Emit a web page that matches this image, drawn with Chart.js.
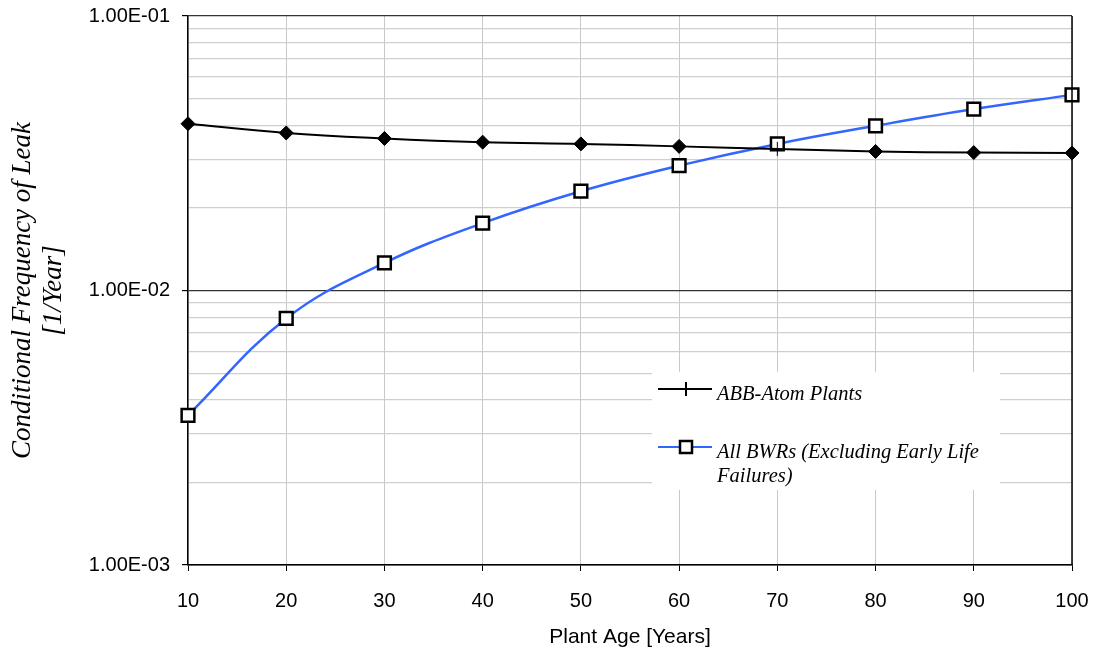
<!DOCTYPE html>
<html lang="en">
<head>
  <meta charset="UTF-8" />
  <title>Conditional Frequency of Leak vs Plant Age</title>
  <script src="https://cdn.jsdelivr.net/npm/chart.js"></script>
  <style>
    html, body { margin: 0; padding: 0; background: #fff; }
    #wrap { width: 1093px; height: 652px; }
  </style>
</head>
<body>
  <div id="wrap"><canvas id="leakChart" width="1093" height="652"></canvas></div>

  <script>
    // plant age (years)
    const ages = [10, 20, 30, 40, 50, 60, 70, 80, 90, 100];
    // conditional frequency of leak [1/year]
    const abbAtomFreq = [0.0405, 0.0375, 0.0358, 0.0347, 0.0342, 0.0335, 0.0328, 0.0321, 0.0318, 0.0317];
    const allBwrFreq = [0.00351, 0.00791, 0.0126, 0.0176, 0.0230, 0.0285, 0.0342, 0.0398, 0.0458, 0.0516];
    const yDecades = [0.001, 0.01, 0.1];
    const yDecadeLabels = ["1.00E-03", "1.00E-02", "1.00E-01"];
    const seriesNames = ["ABB-Atom Plants", "All BWRs (Excluding Early Life", "Failures)"];

    const BLUE = "#3366ff";
    const serif = "'Liberation Serif', 'Times New Roman', serif";
    const sans = "'Liberation Sans', Arial, sans-serif";

    function isMajor(v) {
      return yDecades.some(d => Math.abs(v - d) < d * 1e-6);
    }

    // ABB series: diamonds, except the one point hidden behind the square at 70
    const abbStyles = abbAtomFreq.map((v, i) => i === 6 ? "line" : "rectRot");
    const abbRot = abbAtomFreq.map((v, i) => i === 6 ? 90 : 0);

    const frameAndLegend = {
      id: "frameAndLegend",
      afterDraw(chart) {
        const { ctx, chartArea: a } = chart;
        ctx.save();
        // right frame edge
        ctx.strokeStyle = "#000";
        ctx.lineWidth = 1.5;
        ctx.beginPath();
        ctx.moveTo(a.right, a.top);
        ctx.lineTo(a.right, a.bottom);
        ctx.stroke();

        // legend box
        const lx = 652, ly = 372, lw = 348, lh = 118;
        ctx.fillStyle = "#fff";
        ctx.fillRect(lx, ly, lw, lh);

        // entry 1
        ctx.strokeStyle = "#000";
        ctx.lineWidth = 2;
        ctx.beginPath();
        ctx.moveTo(658, 389); ctx.lineTo(712, 389);
        ctx.moveTo(686, 382); ctx.lineTo(686, 396);
        ctx.stroke();

        // entry 2
        ctx.strokeStyle = BLUE;
        ctx.beginPath();
        ctx.moveTo(658, 447); ctx.lineTo(712, 447);
        ctx.stroke();
        ctx.fillStyle = "#fff";
        ctx.strokeStyle = "#000";
        ctx.lineWidth = 2.5;
        ctx.fillRect(680, 441, 12, 12);
        ctx.strokeRect(680, 441, 12, 12);

        ctx.fillStyle = "#000";
        ctx.font = "italic 20.5px " + serif;
        ctx.textBaseline = "alphabetic";
        ctx.textAlign = "left";
        ctx.fillText(seriesNames[0], 717, 400);
        ctx.fillText(seriesNames[1], 717, 458);
        ctx.fillText(seriesNames[2], 717, 482);
        ctx.restore();
      }
    };

    new Chart(document.getElementById("leakChart"), {
      type: "line",
      data: {
        labels: ages,
        datasets: [
          {
            label: seriesNames[0],
            data: abbAtomFreq,
            borderColor: "#000",
            borderWidth: 2,
            backgroundColor: "#000",
            pointStyle: abbStyles,
            pointRotation: abbRot,
            pointRadius: 7,
            pointBorderWidth: 1,
            pointBorderColor: "#000",
            pointBackgroundColor: "#000",
            tension: 0.4
          },
          {
            label: seriesNames[1] + " " + seriesNames[2],
            data: allBwrFreq,
            borderColor: BLUE,
            borderWidth: 2.5,
            pointStyle: "rect",
            pointRadius: 9,
            pointBorderWidth: 2.5,
            pointBorderColor: "#000",
            pointBackgroundColor: "#fff",
            tension: 0.4
          }
        ]
      },
      options: {
        responsive: false,
        animation: false,
        layout: { padding: { top: 16, right: 21, left: 0, bottom: 0 } },
        plugins: {
          legend: { display: false },
          tooltip: { enabled: false }
        },
        scales: {
          x: {
            type: "category",
            offset: false,
            afterFit(s) {
              s.height = 87;
              s.paddingLeft = 0;
              s.paddingRight = 0;
            },
            grid: {
              color: "#c8c8c8",
              lineWidth: 1,
              tickColor: "#000",
              tickLength: 6
            },
            border: { color: "#000", width: 1.5 },
            ticks: {
              color: "#000",
              font: { family: sans, size: 20 },
              padding: 18,
              maxRotation: 0
            },
            title: {
              display: true,
              text: "Plant Age [Years]",
              color: "#000",
              font: { family: sans, size: 21 },
              padding: { top: 0, bottom: 2 }
            }
          },
          y: {
            type: "logarithmic",
            min: 0.001,
            max: 0.1,
            afterFit(s) {
              s.width = 188;
              s.paddingTop = 0;
              s.paddingBottom = 0;
            },
            afterBuildTicks(s) {
              const t = [];
              yDecades.forEach((d, i) => {
                const last = i === yDecades.length - 1;
                for (let k = 1; k <= (last ? 1 : 9); k++) t.push({ value: +(d * k).toPrecision(3) });
              });
              s.ticks = t;
            },
            grid: {
              color: c => isMajor(c.tick.value) ? "#333" : "#cfcfcf",
              lineWidth: 1.2,
              tickColor: c => isMajor(c.tick.value) ? "#000" : "rgba(0,0,0,0)",
              tickLength: 6
            },
            border: { color: "#000", width: 1.5 },
            ticks: {
              color: "#000",
              font: { family: sans, size: 20 },
              padding: 12,
              autoSkip: false,
              callback: v => {
                const i = yDecades.findIndex(d => Math.abs(v - d) < d * 1e-6);
                return i >= 0 ? yDecadeLabels[i] : "";
              }
            },
            title: {
              display: true,
              text: ["Conditional Frequency of Leak", "[1/Year]"],
              color: "#000",
              font: { family: serif, size: 27, style: "italic", lineHeight: 1.15 },
              padding: { top: 7, bottom: 0 }
            }
          }
        }
      },
      plugins: [frameAndLegend]
    });
  </script>
</body>
</html>
